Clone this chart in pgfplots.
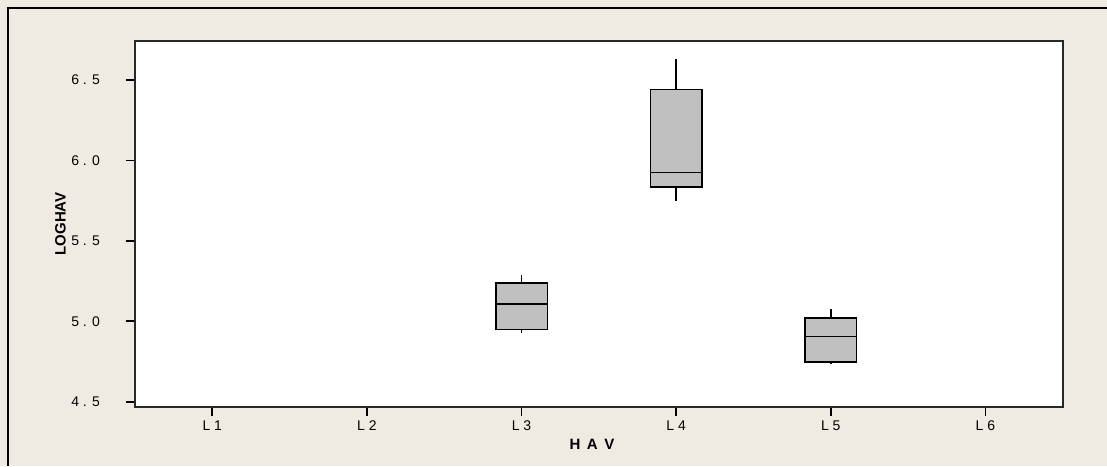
\documentclass[border=0pt]{standalone}
\usepackage{pgfplots}
\pgfplotsset{compat=1.18}
\usepgfplotslibrary{statistics}
\usepackage{fontspec}
\setmainfont{Liberation Sans}

\definecolor{panelbg}{RGB}{239,235,226}
\definecolor{boxfill}{RGB}{192,192,192}
\definecolor{axisline}{RGB}{40,40,40}

\newcommand\ticklabelfont{\fontsize{14pt}{16pt}\selectfont}
\newcommand\axislabelfont{\fontsize{15pt}{17pt}\selectfont\bfseries}

\begin{document}
\begin{tikzpicture}
  % panel background with its frame (axis box starts at the origin)
  \useasboundingbox (-135pt,-59.3pt) rectangle (972pt,406.7pt);
  \fill[panelbg] (-135pt,-59.3pt) rectangle (972pt,406.7pt);
  \draw[line width=1.6pt, black] (-127pt,-59.3pt) -- (-127pt,398.7pt) -- (972pt,398.7pt);
  \begin{axis}[
    at={(0pt,0pt)}, anchor=south west,
    scale only axis, width=927.7pt, height=365.7pt,
    xmin=0.5, xmax=6.5, ymin=4.469, ymax=6.7425,
    xtick={1,2,3,4,5,6},
    xticklabels={{\ticklabelfont L 1}, {\ticklabelfont L 2}, {\ticklabelfont L 3},
                 {\ticklabelfont L 4}, {\ticklabelfont L 5}, {\ticklabelfont L 6}},
    ytick={4.5,5,5.5,6,6.5},
    yticklabels={{\ticklabelfont 4 . 5}, {\ticklabelfont 5 . 0}, {\ticklabelfont 5 . 5},
                 {\ticklabelfont 6 . 0}, {\ticklabelfont 6 . 5}},
    xtick pos=bottom, ytick pos=left,
    tick align=outside, major tick length=9pt,
    tick style={line width=1.7pt, black},
    axis line style={line width=1.6pt, axisline},
    axis background/.style={fill=white},
    yticklabel style={anchor=east, inner sep=0pt, xshift=-26pt},
    xticklabel style={anchor=north, inner sep=0pt, yshift=-5pt},
    xlabel={\axislabelfont H\hspace{6.5pt}A\hspace{6.5pt}V},
    ylabel={\axislabelfont LOGHAV},
    every axis x label/.style={at={(rel axis cs:0.4926,0)}, anchor=center,
      yshift=-38pt},
    every axis y label/.style={at={(rel axis cs:0,0.5)}, xshift=-74.5pt,
      rotate=90, anchor=center},
    boxplot/draw direction=y,
    boxplot/box extend=0.334,
    boxplot/whisker extend=0,
    boxplot/every median/.style={line width=1.2pt, black},
  ]
    % L3
    \addplot[draw=black, fill=boxfill, line width=1.6pt,
      boxplot prepared={draw position=3,
        lower whisker=4.925, lower quartile=4.950, median=5.107,
        upper quartile=5.239, upper whisker=5.287}] coordinates {};
    % L4
    \addplot[draw=black, fill=boxfill, line width=1.6pt,
      boxplot prepared={draw position=4,
        lower whisker=5.749, lower quartile=5.836, median=5.926,
        upper quartile=6.442, upper whisker=6.631}] coordinates {};
    % L5
    \addplot[draw=black, fill=boxfill, line width=1.6pt,
      boxplot prepared={draw position=5,
        lower whisker=4.734, lower quartile=4.746, median=4.904,
        upper quartile=5.022, upper whisker=5.076}] coordinates {};
  \end{axis}
\end{tikzpicture}
\end{document}
